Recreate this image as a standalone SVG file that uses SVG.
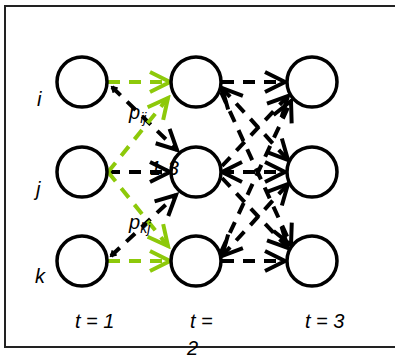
<svg xmlns="http://www.w3.org/2000/svg" width="395" height="357" viewBox="0 0 395 357">
<style>
.node{fill:#fff;stroke:#000;stroke-width:3.5}
.lbl{font-family:"Liberation Sans",Arial,sans-serif;font-style:italic;font-size:20px;fill:#000}
.sub{font-size:14px}
.eb{fill:none;stroke:#000;stroke-width:4;stroke-dasharray:12 9}
.eg{fill:none;stroke:#8DC90A;stroke-width:4;stroke-dasharray:12 9}
</style>
<defs>
<marker id="ab" viewBox="-25 -14 29 28" markerWidth="29" markerHeight="28" refX="0" refY="0" orient="auto-start-reverse" markerUnits="userSpaceOnUse"><path d="M-20,-10 L0,0 L-20,10" fill="none" stroke="#000" stroke-width="4"/></marker>
<marker id="ag" viewBox="-25 -14 29 28" markerWidth="29" markerHeight="28" refX="0" refY="0" orient="auto-start-reverse" markerUnits="userSpaceOnUse"><path d="M-20,-10 L0,0 L-20,10" fill="none" stroke="#8DC90A" stroke-width="4"/></marker>
<marker id="as" viewBox="-8 -5 10 10" markerWidth="10" markerHeight="10" refX="0" refY="0" orient="auto-start-reverse" markerUnits="userSpaceOnUse"><path d="M-5,-3 L0,0 L-5,3" fill="none" stroke="#000" stroke-width="2"/></marker>
</defs>
<rect x="5" y="6" width="400" height="341" fill="#fff" stroke="#222" stroke-width="2"/>
<g id="connectors">
<path class="eb" d="M112,87 L177,150" marker-start="url(#as)" marker-end="url(#ab)"/>
<path class="eb" d="M108,172 L170,172" marker-end="url(#ab)"/>
<path class="eb" d="M111,256 L176,195" marker-start="url(#as)" marker-end="url(#ab)"/>
<path class="eg" d="M108,82 L170,82" marker-end="url(#ag)"/>
<path class="eg" d="M108,172 L168,98" marker-end="url(#ag)"/>
<path class="eg" d="M108,172 L168,246" marker-end="url(#ag)"/>
<path class="eg" d="M108,261 L170,261" marker-end="url(#ag)"/>
<path class="eb" d="M222,82 L285,82" marker-end="url(#ab)"/>
<path class="eb" d="M222,88 L288,160" marker-start="url(#ab)" marker-end="url(#ab)"/>
<path class="eb" d="M221,92 L291,245" marker-end="url(#ab)"/>
<path class="eb" d="M222,166 L288,96" marker-end="url(#ab)"/>
<path class="eb" d="M222,172 L285,172" marker-start="url(#ab)" marker-end="url(#ab)"/>
<path class="eb" d="M222,178 L288,248" marker-end="url(#ab)"/>
<path class="eb" d="M221,252 L291,101" marker-end="url(#ab)"/>
<path class="eb" d="M222,256 L288,184" marker-start="url(#ab)" marker-end="url(#ab)"/>
<path class="eb" d="M222,261 L285,261" marker-end="url(#ab)"/>
</g>
<g id="i1"><circle class="node" cx="82" cy="82" r="25"/></g>
<g id="j1"><circle class="node" cx="82" cy="172" r="25"/></g>
<g id="k1"><circle class="node" cx="82" cy="261" r="25"/></g>
<g id="i2"><circle class="node" cx="196" cy="82" r="25"/></g>
<g id="j2"><circle class="node" cx="196" cy="172" r="25"/></g>
<g id="k2"><circle class="node" cx="196" cy="261" r="25"/></g>
<g id="i3"><circle class="node" cx="312" cy="82" r="25"/></g>
<g id="j3"><circle class="node" cx="312" cy="172" r="25"/></g>
<g id="k3"><circle class="node" cx="312" cy="261" r="25"/></g>
<g id="labels">
<text class="lbl" x="37" y="106">i</text>
<text class="lbl" x="36" y="196">j</text>
<text class="lbl" x="35" y="283">k</text>
<text class="lbl" x="129" y="119" fill="#222">p<tspan class="sub" dy="4">ij</tspan></text>
<text class="lbl" x="129" y="229" fill="#222">p<tspan class="sub" dy="4">kj</tspan></text>
<text class="lbl" x="150" y="175">1-3</text>
<text class="lbl" x="75" y="328">t = 1</text>
<text class="lbl" x="190" y="328">t =</text>
<text class="lbl" x="187" y="355" font-style="normal">2</text>
<text class="lbl" x="305" y="328">t = 3</text>
</g>
</svg>
